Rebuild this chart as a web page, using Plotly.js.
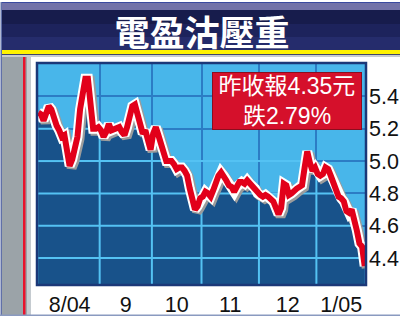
<!DOCTYPE html>
<html><head><meta charset="utf-8">
<script src="https://cdn.plot.ly/plotly-3.0.1.min.js"></script>
<style>html,body{margin:0;padding:0;background:#fff;} #chart{width:400px;height:320px;}</style>
</head><body><div id="chart"></div>
<script>
// ---- data ----
const chartTitle = '電盈沽壓重';
const noteLines = ['昨收報4.35元', '跌2.79%'];
const monthLabels = ['8/04', '9', '10', '11', '12', '1/05'];
const monthLabelPos = [12, 33.5, 53, 73.5, 95.5, 116];
const monthStarts = [23.5, 43.5, 62.5, 84.5, 106.5];
const priceTicks = [4.4, 4.6, 4.8, 5.0, 5.2, 5.4];
const closes = [
  5.30,5.29,5.25,5.30,5.34,5.32,5.25,5.22,5.19,5.15,
  5.16,5.07,4.97,5.01,5.07,5.15,5.32,5.40,5.51,5.51,
  5.32,5.20,5.20,5.21,5.19,5.15,5.18,5.23,5.19,5.20,
  5.20,5.21,5.18,5.16,5.21,5.29,5.34,5.35,5.29,5.20,
  5.17,5.19,5.11,5.07,5.17,5.21,5.16,5.10,5.04,5.00,
  5.00,5.00,4.98,4.95,4.96,4.96,4.94,4.91,4.83,4.74,
  4.70,4.72,4.77,4.78,4.81,4.80,4.78,4.82,4.87,4.91,
  4.93,4.91,4.88,4.85,4.84,4.81,4.84,4.87,4.87,4.86,
  4.88,4.86,4.85,4.83,4.80,4.79,4.78,4.79,4.78,4.77,
  4.75,4.71,4.67,4.71,4.86,4.85,4.79,4.80,4.82,4.83,
  4.84,4.85,4.96,5.06,4.99,4.94,4.96,4.92,4.91,4.92,
  4.96,4.95,4.91,4.86,4.81,4.78,4.77,4.75,4.69,4.68,
  4.70,4.65,4.57,4.49,4.47,4.35
];
const days = closes.map((_, i) => i);

// ---- geometry / style ----
const W = 400, H = 320;
const M = {l: 37, r: 34, t: 63, b: 35};
const pw = W - M.l - M.r, ph = H - M.t - M.b;
const xRange = [-0.5, closes.length - 0.5];
const yRange = [4.233, 5.607];
const C = {
  sky: '#48b6ea', navy: '#18528a', gridDark: '#2c7cc4', gridLight: '#54c2f3',
  frame: '#1b3878', red: '#e2001a', shadow: '#9c9c9c'
};
const px = x => (x - M.l) / pw;
const py = y => 1 - (y - M.t) / ph;
function rect(x0, y0, x1, y1, color) {
  return {type: 'rect', xref: 'paper', yref: 'paper', layer: 'below',
    x0: px(x0), x1: px(x1), y0: py(y1), y1: py(y0),
    fillcolor: color, line: {width: 0}};
}

// light grid lines inside the dark (filled) area, derived from the series
function lightGrid() {
  const xs = [], ys = [];
  const n = closes.length;
  priceTicks.forEach(level => {
    let open = false;
    if (closes[0] >= level) { xs.push(xRange[0]); ys.push(level); open = true; }
    for (let i = 0; i < n; i++) {
      const v = closes[i];
      if (i > 0) {
        const p = closes[i - 1];
        if ((p - level) * (v - level) < 0) {
          const xc = (i - 1) + (level - p) / (v - p);
          xs.push(xc); ys.push(level);
          if (v < level) { xs.push(null); ys.push(null); open = false; }
          else open = true;
        }
      }
      if (v >= level) { xs.push(i); ys.push(level); open = true; }
    }
    if (open) { xs.push(xRange[1]); ys.push(level); }
    xs.push(null); ys.push(null);
  });
  monthStarts.forEach(b => {
    const i0 = Math.floor(b), t = b - i0;
    const v = closes[i0] * (1 - t) + closes[i0 + 1] * t;
    xs.push(b, b, null); ys.push(yRange[0] - 0.05, v, null);
  });
  return {xs, ys};
}
const lg = lightGrid();

const sx = 2 * (xRange[1] - xRange[0]) / pw;
const sy = 2 * (yRange[1] - yRange[0]) / ph;

const traces = [
  {x: days, y: closes, xaxis: 'x', yaxis: 'y', type: 'scatter', mode: 'lines',
   fill: 'tozeroy', fillcolor: C.navy, line: {width: 0}, hoverinfo: 'skip'},
  {x: lg.xs, y: lg.ys, xaxis: 'x', yaxis: 'y', type: 'scatter', mode: 'lines',
   line: {color: C.gridLight, width: 2}, connectgaps: false, hoverinfo: 'skip'},
  {x: days, y: closes, xaxis: 'x2', yaxis: 'y2', type: 'scatter', mode: 'lines',
   line: {color: C.shadow, width: 10}, hoverinfo: 'skip'},
  {x: days, y: closes, xaxis: 'x3', yaxis: 'y3', type: 'scatter', mode: 'lines',
   line: {color: '#ffffff', width: 10}, hoverinfo: 'skip'},
  {x: days, y: closes, xaxis: 'x3', yaxis: 'y3', type: 'scatter', mode: 'lines',
   line: {color: C.red, width: 6}, hoverinfo: 'skip'}
];

const tickFont = {family: 'Liberation Sans, Arial, sans-serif', size: 21.5, color: '#111'};
const hidden = {visible: false, fixedrange: true};
const layout = {
  width: W, height: H, margin: M,
  paper_bgcolor: '#ffffff', plot_bgcolor: 'rgba(0,0,0,0)',
  showlegend: false,
  title: {text: chartTitle, xref: 'container', yref: 'container', x: 0.505, y: 1 - 33.5 / H,
          xanchor: 'center', yanchor: 'middle',
          font: {family: 'Noto Sans CJK TC, sans-serif', size: 35, color: '#ffffff', weight: 700}},
  xaxis: {domain: [0, 1], range: xRange, anchor: 'y', tickmode: 'array', tickvals: monthStarts,
          showticklabels: false, ticks: '', showgrid: true, gridcolor: C.gridDark, gridwidth: 2,
          zeroline: false, showline: false},
  yaxis: {domain: [0, 1], range: yRange, anchor: 'x', tickmode: 'array', tickvals: priceTicks,
          showticklabels: false, ticks: '', showgrid: true, gridcolor: C.gridDark, gridwidth: 2,
          zeroline: false, showline: false},
  xaxis2: Object.assign({domain: [0, 1], anchor: 'y2', range: [xRange[0] - sx, xRange[1] - sx]}, hidden),
  yaxis2: Object.assign({domain: [0, 1], anchor: 'x2', range: [yRange[0] + sy, yRange[1] + sy]}, hidden),
  xaxis3: {domain: [0, 1], range: xRange, anchor: 'y3', tickmode: 'array', tickvals: monthLabelPos,
           ticktext: monthLabels, ticks: '', showgrid: false, zeroline: false, showline: false,
           tickfont: tickFont, ticklabelstandoff: 4},
  yaxis3: {domain: [0, 1], range: yRange, anchor: 'x3', side: 'right', tickmode: 'array',
           tickvals: priceTicks, tickformat: '.1f', ticks: '', showgrid: false, zeroline: false,
           showline: false, tickfont: tickFont, ticklabelstandoff: 2},
  shapes: [
    rect(1, 2, 400, 3, '#3a4aa0'),
    rect(1, 3, 400, 10, '#7272a8'),
    rect(1, 10, 400, 24, '#171c4c'),
    rect(1, 24, 400, 37, '#1d235c'),
    rect(1, 37, 400, 50, '#252c6c'),
    rect(1, 50, 400, 54, '#fff200'),
    rect(1, 54, 400, 55, '#40466a'),
    rect(1, 55, 400, 57, '#c8ccd0'),
    rect(2, 57, 27, 315, '#9ba3a8'),
    rect(23, 57, 25.5, 315, '#e8122c'),
    rect(27, 57, 31, 315, '#c5cbd0'),
    rect(0.5, 2, 2, 316, '#6070a8'),
    rect(0, 314.5, 400, 316, '#8a9ac0'),
    rect(37, 63, 366, 285, C.sky),
    {type: 'rect', xref: 'paper', yref: 'paper', layer: 'above', x0: 0, x1: 1, y0: 0, y1: 1,
     fillcolor: 'rgba(0,0,0,0)', line: {color: C.frame, width: 2.5}}
  ],
  annotations: [{
    xref: 'paper', yref: 'paper', x: px(287), y: py(101), xanchor: 'center', yanchor: 'middle',
    text: noteLines.join('<br>'), showarrow: false, align: 'center',
    font: {family: 'Liberation Sans, Noto Sans CJK TC, sans-serif', size: 23, color: '#ffffff'},
    bgcolor: '#d5102b', bordercolor: '#8c0d1f', borderwidth: 1, borderpad: 0, width: 148, height: 56
  }]
};

Plotly.newPlot('chart', traces, layout, {staticPlot: true, displayModeBar: false});
</script>
</body></html>
